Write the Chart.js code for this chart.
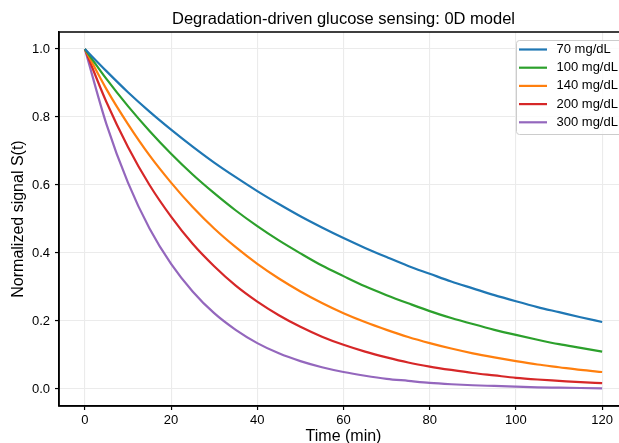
<!DOCTYPE html>
<html>
<head>
<meta charset="utf-8">
<script src="https://cdn.jsdelivr.net/npm/chart.js@4.4.1/dist/chart.umd.min.js"></script>
<style>
  html, body { margin: 0; padding: 0; background: #fff; overflow: hidden; }
  canvas { display: block; }
</style>
</head>
<body>
<canvas id="decayChart" width="630" height="450"></canvas>
<script>
// time axis (min), values every 5 minutes
const times = [0, 5, 10, 15, 20, 25, 30, 35, 40, 45, 50, 55, 60, 65, 70, 75, 80, 85, 90, 95, 100, 105, 110, 115, 120];

const s70  = [1.000, 0.935, 0.873, 0.816, 0.763, 0.713, 0.666, 0.623, 0.582, 0.544, 0.508, 0.475, 0.444, 0.415, 0.388, 0.362, 0.339, 0.316, 0.296, 0.276, 0.258, 0.241, 0.226, 0.211, 0.197];
const s100 = [1.000, 0.912, 0.832, 0.759, 0.692, 0.631, 0.576, 0.525, 0.479, 0.437, 0.399, 0.363, 0.332, 0.302, 0.276, 0.252, 0.229, 0.209, 0.191, 0.174, 0.159, 0.145, 0.132, 0.121, 0.110];
const s140 = [1.000, 0.882, 0.779, 0.687, 0.607, 0.535, 0.472, 0.417, 0.368, 0.325, 0.287, 0.253, 0.223, 0.197, 0.174, 0.153, 0.135, 0.119, 0.105, 0.093, 0.082, 0.072, 0.064, 0.056, 0.050];
const s200 = [1.000, 0.844, 0.712, 0.600, 0.507, 0.427, 0.361, 0.304, 0.257, 0.217, 0.183, 0.154, 0.130, 0.110, 0.093, 0.078, 0.066, 0.056, 0.047, 0.040, 0.033, 0.028, 0.024, 0.020, 0.017];
const s300 = [1.000, 0.779, 0.607, 0.472, 0.368, 0.287, 0.223, 0.174, 0.135, 0.105, 0.082, 0.064, 0.050, 0.039, 0.030, 0.024, 0.018, 0.014, 0.011, 0.009, 0.007, 0.005, 0.004, 0.003, 0.002];

const seriesLabels = ['70 mg/dL', '100 mg/dL', '140 mg/dL', '200 mg/dL', '300 mg/dL'];
const seriesColors = ['#1f77b4', '#2ca02c', '#ff7f0e', '#d62728', '#9467bd'];

const xTicks = [0, 20, 40, 60, 80, 100, 120];
const yTicks = [0.0, 0.2, 0.4, 0.6, 0.8, 1.0];

const chartTitle = 'Degradation-driven glucose sensing: 0D model';
const FONT = '"Liberation Sans", Arial, sans-serif';

function toPoints(values) {
  return values.map((v, i) => ({ x: times[i], y: v }));
}

// frame, title and legend box drawn like matplotlib
const frameTitleLegend = {
  id: 'frameTitleLegend',
  afterDraw(chart) {
    const { ctx, chartArea: a } = chart;
    ctx.save();

    ctx.strokeStyle = '#000';
    ctx.lineWidth = 1.5;
    ctx.strokeRect(a.left, a.top, a.right - a.left, a.bottom - a.top);

    ctx.fillStyle = '#000';
    ctx.font = '16.5px ' + FONT;
    ctx.textAlign = 'center';
    ctx.textBaseline = 'alphabetic';
    ctx.fillText(chartTitle, (a.left + a.right) / 2, 24);

    // legend
    const boxRight = a.right - 6;
    const boxLeft = 516;
    const boxTop = a.top + 8;
    const rowH = 18.2;
    const boxBottom = boxTop + 94;
    ctx.beginPath();
    if (ctx.roundRect) ctx.roundRect(boxLeft + 0.5, boxTop + 0.5, boxRight - boxLeft, boxBottom - boxTop, 3);
    else ctx.rect(boxLeft + 0.5, boxTop + 0.5, boxRight - boxLeft, boxBottom - boxTop);
    ctx.fillStyle = 'rgba(255,255,255,0.8)';
    ctx.fill();
    ctx.strokeStyle = '#cccccc';
    ctx.lineWidth = 1;
    ctx.stroke();

    ctx.font = '13px ' + FONT;
    ctx.textAlign = 'left';
    ctx.textBaseline = 'middle';
    chart.data.datasets.forEach((ds, i) => {
      const y = boxTop + 9.5 + i * rowH;
      ctx.beginPath();
      ctx.moveTo(519, y);
      ctx.lineTo(547, y);
      ctx.strokeStyle = ds.borderColor;
      ctx.lineWidth = 2.2;
      ctx.stroke();
      ctx.fillStyle = '#000';
      ctx.fillText(ds.label, 556.5, y);
    });

    ctx.restore();
  }
};

const ctx = document.getElementById('decayChart');

const chart = new Chart(ctx, {
  type: 'line',
  data: {
    datasets: [s70, s100, s140, s200, s300].map((vals, i) => ({
      label: seriesLabels[i],
      data: toPoints(vals),
      borderColor: seriesColors[i],
      backgroundColor: seriesColors[i],
      borderWidth: 2.2,
      pointRadius: 0,
      cubicInterpolationMode: 'monotone',
      fill: false
    }))
  },
  options: {
    responsive: false,
    animation: false,
    layout: { padding: { top: 32, right: 2, bottom: 0, left: 0 } },
    plugins: {
      legend: { display: false },
      title: { display: false },
      tooltip: { enabled: false }
    },
    scales: {
      x: {
        type: 'linear',
        min: -6,
        max: 126,
        afterBuildTicks: s => { s.ticks = xTicks.map(v => ({ value: v })); },
        afterFit: s => { s.height = 44; },
        grid: { color: '#ebebeb', lineWidth: 1.1, tickLength: 4, tickColor: '#000', tickWidth: 1.2 },
        border: { color: '#000', width: 1.5 },
        ticks: { color: '#000', font: { family: FONT, size: 13 }, padding: 3, maxRotation: 0, autoSkip: false },
        title: { display: true, text: 'Time (min)', color: '#000', font: { family: FONT, size: 16 }, padding: { top: 0, bottom: 4 } }
      },
      y: {
        min: -0.05,
        max: 1.05,
        afterBuildTicks: s => { s.ticks = yTicks.map(v => ({ value: v })); },
        afterFit: s => { s.width = 59; },
        grid: { color: '#ebebeb', lineWidth: 1.1, tickLength: 4, tickColor: '#000', tickWidth: 1.2 },
        border: { color: '#000', width: 1.5 },
        ticks: { color: '#000', font: { family: FONT, size: 13 }, padding: 5, callback: v => v.toFixed(1) },
        title: { display: true, text: 'Normalized signal S(t)', color: '#000', font: { family: FONT, size: 16 }, padding: { top: 9, bottom: 0 } }
      }
    }
  },
  plugins: [frameTitleLegend]
});
</script>
</body>
</html>
